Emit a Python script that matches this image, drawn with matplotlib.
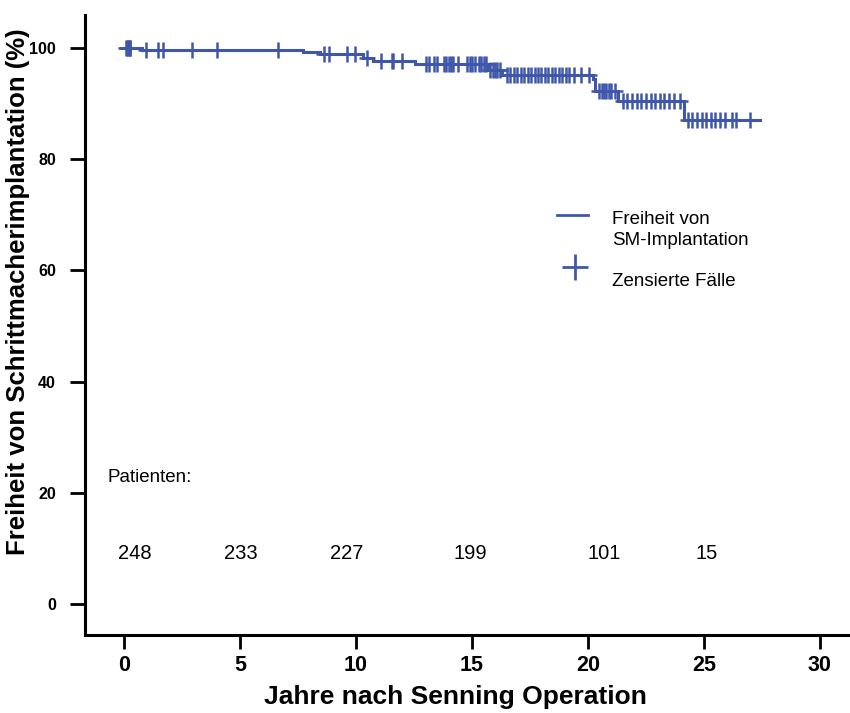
import matplotlib
matplotlib.use("Agg")
import matplotlib.pyplot as plt
from matplotlib.lines import Line2D

# ---- data ----
event_times = [0.0, 0.76, 7.73, 8.46, 10.3, 10.75, 12.56, 15.7, 16.3, 20.2, 20.3, 21.3, 24.13]
survival = [100.0, 99.6, 99.2, 98.8, 98.2, 97.6, 97.0, 96.0, 95.1, 94.4, 92.3, 90.4, 87.0]
end_time = 27.4

censor_times = [0.08, 0.12, 0.16, 0.2, 0.24, 0.28, 0.95, 1.47, 1.68, 2.93, 4.0, 6.65,
                8.63, 8.85, 9.6, 9.97, 10.49, 11.1, 11.55, 11.6, 11.97,
                13.0, 13.17, 13.35, 13.5, 13.8, 13.9, 14.0, 14.1, 14.2, 14.4,
                14.8, 14.9, 15.0, 15.15, 15.3, 15.4, 15.5, 15.6,
                15.8, 15.9, 16.0, 16.1, 16.2,
                16.5, 16.65, 16.8, 16.95, 17.1, 17.25, 17.4, 17.55, 17.7, 17.85,
                18.0, 18.15, 18.3, 18.45, 18.6, 18.75, 18.9, 19.05, 19.2, 19.4, 19.7, 20.05,
                20.5, 20.6, 20.7, 20.8, 20.9, 21.0, 21.15,
                21.5, 21.7, 21.9, 22.1, 22.3, 22.5, 22.7, 22.9, 23.1, 23.3, 23.5, 23.7, 23.95,
                24.3, 24.5, 24.7, 24.9, 25.1, 25.3, 25.5, 25.7, 25.9, 26.2, 26.4, 27.0]

risk_x = [0.47, 5.05, 9.62, 14.93, 20.7, 25.1]
risk_n = ["248", "233", "227", "199", "101", "15"]

xticks = [0, 5, 10, 15, 20, 25, 30]
yticks = [0, 20, 40, 60, 80, 100]

color = "#3f57aa"
NARROW = ["Liberation Sans Narrow", "Liberation Sans"]

def surv_at(t):
    s = survival[0]
    for et, sv in zip(event_times, survival):
        if t >= et:
            s = sv
    return s

fig = plt.figure(figsize=(8.5, 7.13), dpi=100)
ax = fig.add_axes([0.1, 0.109, 0.9, 0.87])

xs = list(event_times) + [end_time]
ys = list(survival) + [survival[-1]]
ax.step(xs, ys, where="post", color=color, lw=2.2, solid_joinstyle="miter")
ax.plot(censor_times, [surv_at(t) for t in censor_times], ls="none", marker="+",
        ms=11, mew=1.8, color=color)

ax.set_xlim(-1.68, 31.3)
ax.set_ylim(-5.58, 105.9)
ax.set_xticks(xticks)
ax.set_yticks(yticks)

for s in ["top", "right"]:
    ax.spines[s].set_visible(False)
for s in ["left", "bottom"]:
    ax.spines[s].set_linewidth(2.2)

ax.tick_params(axis="y", direction="out", width=2.0, length=11, pad=10)
ax.tick_params(axis="x", direction="out", width=2.0, length=10, pad=4)
for lab in ax.get_yticklabels():
    lab.set_fontfamily(NARROW)
    lab.set_fontweight("bold")
    lab.set_fontsize(11.5)
for lab in ax.get_xticklabels():
    lab.set_fontfamily(NARROW)
    lab.set_fontweight("bold")
    lab.set_fontsize(15.5)

fig.text(455 / 850, 1 - 697 / 713, "Jahre nach Senning Operation", fontsize=19,
         fontweight="bold", family=NARROW, ha="center", va="center")
fig.text(18 / 850, 1 - 292 / 713, "Freiheit von Schrittmacherimplantation (%)", fontsize=18.5,
         fontweight="bold", family=NARROW, ha="center", va="center", rotation=90)

ax.text(-0.7, 22.7, "Patienten:", fontsize=13.5, family="Liberation Sans", va="center", ha="left")
for x, n in zip(risk_x, risk_n):
    ax.text(x, 9.2, n, fontsize=14.5, family="Liberation Sans", va="center", ha="center")

# legend (manual)
ax.add_line(Line2D([0.617, 0.657], [0.677, 0.677], transform=ax.transAxes, color=color, lw=2))
ax.add_line(Line2D([0.64], [0.593], transform=ax.transAxes, color=color,
                   ls="none", marker="+", ms=19, mew=2))
ax.text(0.689, 0.654, "Freiheit von\nSM-Implantation", transform=ax.transAxes, fontsize=13.5,
        family="Liberation Sans", va="center", ha="left", linespacing=1.3)
ax.text(0.689, 0.571, "Zensierte Fälle", transform=ax.transAxes, fontsize=13.5,
        family="Liberation Sans", va="center", ha="left")

fig.savefig("out.png", dpi=100)
